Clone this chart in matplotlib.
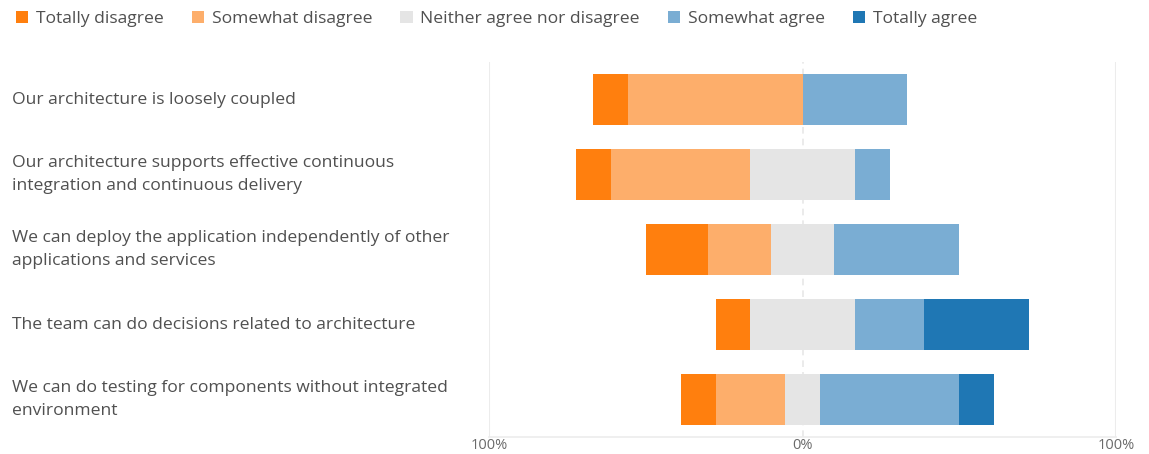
# Diverging stacked bars - architecture survey answers
import numpy as np
import matplotlib.pyplot as plt
from matplotlib.patches import Patch
from matplotlib.transforms import blended_transform_factory

plt.rcParams["font.family"] = ["Open Sans", "DejaVu Sans"]

questions = [
    "Our architecture is loosely coupled",
    "Our architecture supports effective continuous\nintegration and continuous delivery",
    "We can deploy the application independently of other\napplications and services",
    "The team can do decisions related to architecture",
    "We can do testing for components without integrated\nenvironment",
]
answers = ["Totally disagree", "Somewhat disagree", "Neither agree nor disagree",
           "Somewhat agree", "Totally agree"]

# percent of respondents
totally_disagree = [11.1, 11.1, 20.0, 11.1, 11.1]
somewhat_disagree = [55.6, 44.4, 20.0, 0.0, 22.2]
neutral = [0.0, 33.3, 20.0, 33.3, 11.1]
somewhat_agree = [33.3, 11.1, 40.0, 22.2, 44.4]
totally_agree = [0.0, 0.0, 0.0, 33.3, 11.1]

colors = ["#ff7f0e", "#fdae6b", "#e5e5e5", "#7aadd3", "#1f77b4"]
text_col = "#505050"

series = np.array([totally_disagree, somewhat_disagree, neutral,
                   somewhat_agree, totally_agree])
start = -(series[0] + series[1] + series[2] / 2)

fig = plt.figure(figsize=(11.49, 4.54), dpi=100)
ax = fig.add_axes([0.4256, 0.0374, 0.5457, 0.826])

y = np.arange(len(questions))
left = start.copy()
for vals, col in zip(series, colors):
    ax.barh(y, vals, left=left, height=0.69, color=col, zorder=3)
    left = left + vals

ax.set_xlim(-100, 100)
ax.set_ylim(4.5, -0.5)
ax.axvline(0, color="#e8e8e8", lw=1.2, ls=(0, (4, 3)), zorder=1)
for xv in (-100, 100):
    ax.axvline(xv, color="#ececec", lw=1.5, zorder=1)

for s in ["top", "right", "left"]:
    ax.spines[s].set_visible(False)
ax.spines["bottom"].set_color("#ececec")
ax.spines["bottom"].set_linewidth(1.2)

ax.set_xticks([-100, 0, 100])
ax.set_xticklabels(["100%", "0%", "100%"])
ax.tick_params(axis="x", length=0, pad=1, labelsize=10.5, labelcolor="#6a6a6a")
ax.set_yticks([])

trans = blended_transform_factory(fig.transFigure, ax.transData)
for yi, q in zip(y, questions):
    ax.text(12 / 1149, yi, q, transform=trans, ha="left", va="center",
            fontsize=12.6, color=text_col, linespacing=1.55)

handles = [Patch(facecolor=c, edgecolor="none") for c in colors]
fig.legend(handles, answers, loc="upper left", bbox_to_anchor=(0.0, 1.01), ncol=5,
           frameon=False, handlelength=0.7, handleheight=0.7, handletextpad=0.45,
           columnspacing=1.6, fontsize=12.6, labelcolor=text_col)

fig.savefig("out.png", dpi=100)
